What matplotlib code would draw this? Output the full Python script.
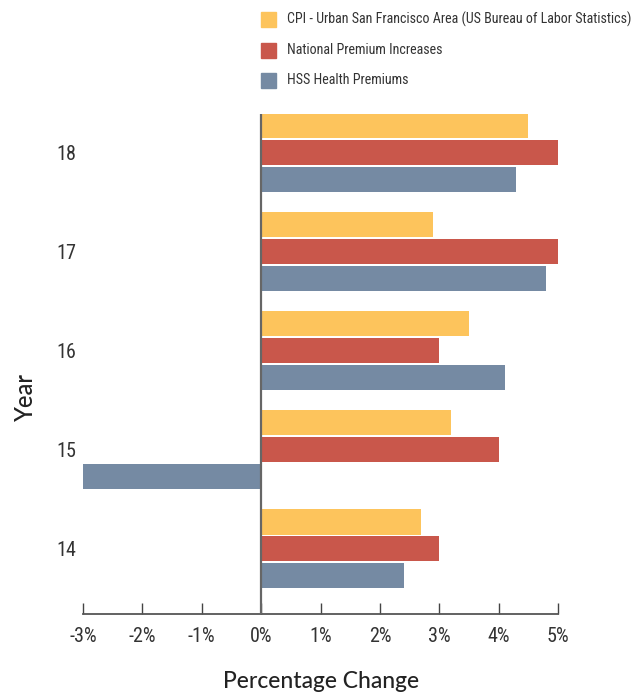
### Percentage change by year: CPI vs premiums
import matplotlib
matplotlib.use('Agg')

import matplotlib.pyplot as plt
import numpy as np
from matplotlib.patches import Rectangle

### Data
years = ['14', '15', '16', '17', '18']
series_names = ['CPI - Urban San Francisco Area (US Bureau of Labor Statistics)',
                'National Premium Increases',
                'HSS Health Premiums']
cpi_sf = [2.7, 3.2, 3.5, 2.9, 4.5]
national = [3.0, 4.0, 3.0, 5.0, 5.0]
hss = [2.4, -3.0, 4.1, 4.8, 4.3]
xticks = [-3, -2, -1, 0, 1, 2, 3, 4, 5]

colors = ['#FDC45C', '#C9574B', '#758AA3']
narrow = ['Roboto Condensed', 'Roboto', 'DejaVu Sans']
tickcol = '#333333'

### Figure
W, H = 642, 696
fig = plt.figure(figsize=(W/100, H/100), dpi=100)
ax = fig.add_axes([83/W, 1-614/H, (558-83)/W, (614-114)/H])

pos = np.arange(len(years))
bh = 0.252
off = 0.272
for i, vals in enumerate([cpi_sf, national, hss]):
    ax.barh(pos + off*(1-i), vals, height=bh, color=colors[i], zorder=2)

ax.set_xlim(-3, 5)
ax.set_ylim(-0.655, 4.383)
ax.axvline(0, color='#666666', linewidth=1.6, zorder=3)

for s in ['top', 'right', 'left']:
    ax.spines[s].set_visible(False)
ax.spines['bottom'].set_color('#555555')
ax.spines['bottom'].set_linewidth(1.3)

ax.set_xticks(xticks)
ax.set_xticklabels([f'{t}%' for t in xticks], family=narrow, fontsize=14.5,
                   fontstretch='condensed', color=tickcol)
ax.tick_params(axis='x', direction='in', length=8, width=1.0, color='#444444', pad=9)
ax.set_yticks(pos)
ax.set_yticklabels(years, family=narrow, fontsize=14.5, fontstretch='condensed', color=tickcol)
ax.tick_params(axis='y', length=0, pad=5)

fig.text(321/W, 1-681/H, 'Percentage Change', ha='center', va='center',
         fontsize=16.5, family='Lato', fontweight='medium', color='#222222')
fig.text(25/W, 1-397/H, 'Year', ha='center', va='center', rotation=90,
         fontsize=17, family='Lato', fontweight='medium', color='#222222')

### Legend
rows = [19.5, 50.5, 80.5]
for name, c, yc in zip(series_names, colors, rows):
    fig.patches.append(Rectangle((261/W, 1-(yc+7.5)/H), 15/W, 15/H,
                                 transform=fig.transFigure, color=c))
    fig.text(287/W, 1-yc/H, name, ha='left', va='center', fontsize=10.1,
             family=narrow, fontstretch='condensed', color=tickcol)

fig.savefig('out.png', dpi=100)
